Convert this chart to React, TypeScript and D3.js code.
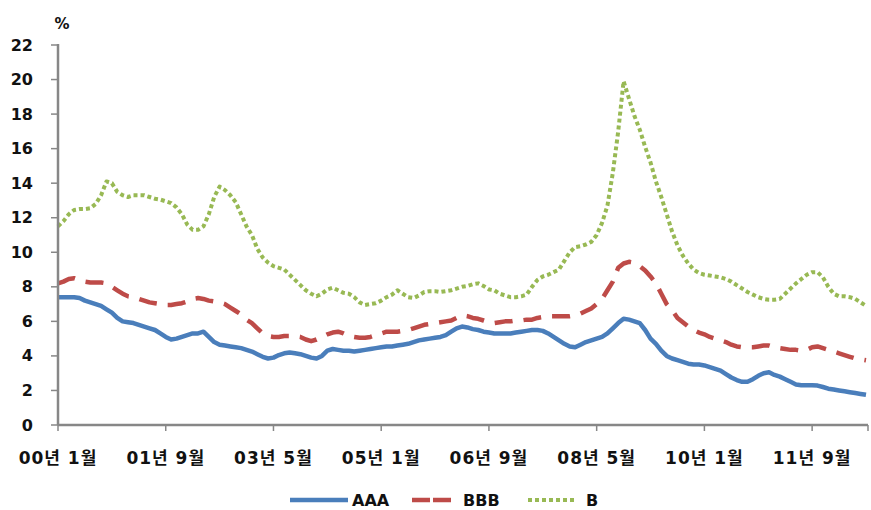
import { useEffect, useRef } from 'react';
import * as d3 from 'd3';

// 월별 회사채 수익률 (2000.1 ~ 2012.7)
const aaa = [
  7.4, 7.4, 7.4, 7.4, 7.35, 7.2, 7.1, 7.0, 6.9, 6.7,
  6.5, 6.2, 6.0, 5.95, 5.9, 5.8, 5.7, 5.6, 5.5, 5.3,
  5.1, 4.95, 5.0, 5.1, 5.2, 5.3, 5.3, 5.4, 5.1, 4.8,
  4.65, 4.6, 4.55, 4.5, 4.45, 4.35, 4.25, 4.1, 3.95, 3.85,
  3.9, 4.05, 4.15, 4.2, 4.15, 4.1, 4.0, 3.9, 3.85, 4.0,
  4.3, 4.4, 4.35, 4.3, 4.3, 4.25, 4.3, 4.35, 4.4, 4.45,
  4.5, 4.55, 4.55, 4.6, 4.65, 4.7, 4.8, 4.9, 4.95, 5.0,
  5.05, 5.1, 5.2, 5.4, 5.6, 5.7, 5.65, 5.55, 5.5, 5.4,
  5.35, 5.3, 5.3, 5.3, 5.3, 5.35, 5.4, 5.45, 5.5, 5.5,
  5.45, 5.3, 5.1, 4.9, 4.7, 4.55, 4.5, 4.65, 4.8, 4.9,
  5.0, 5.1, 5.3, 5.6, 5.9, 6.15, 6.1, 6.0, 5.9, 5.5,
  5.0, 4.7, 4.3, 4.0, 3.85, 3.75, 3.65, 3.55, 3.5, 3.5,
  3.45, 3.35, 3.25, 3.15, 2.95, 2.75, 2.6, 2.5, 2.5, 2.65,
  2.85, 3.0, 3.05, 2.9, 2.8, 2.65, 2.5, 2.35, 2.3, 2.3,
  2.3, 2.28, 2.2, 2.1, 2.05, 2.0, 1.95, 1.9, 1.85, 1.8,
  1.75,
];

const bbb = [
  8.2, 8.3, 8.45, 8.5, 8.4, 8.3, 8.25, 8.25, 8.25, 8.2,
  8.0, 7.8, 7.6, 7.45, 7.4, 7.3, 7.2, 7.1, 7.05, 7.0,
  6.95, 6.95, 7.0, 7.05, 7.15, 7.3, 7.35, 7.3, 7.2, 7.15,
  7.1, 7.0, 6.8, 6.6, 6.4, 6.1, 5.9, 5.6, 5.3, 5.15,
  5.1, 5.1, 5.15, 5.15, 5.15, 5.1, 4.95, 4.85, 4.95, 5.1,
  5.25, 5.35, 5.4, 5.3, 5.15, 5.1, 5.05, 5.05, 5.1, 5.2,
  5.3, 5.4, 5.4, 5.4, 5.45, 5.5, 5.6, 5.7, 5.8, 5.85,
  5.9, 5.95, 6.0, 6.05, 6.2, 6.35, 6.3, 6.2, 6.15, 6.05,
  5.95, 5.9, 5.95, 6.0, 6.0, 6.05, 6.05, 6.1, 6.1, 6.2,
  6.25, 6.3, 6.3, 6.3, 6.3, 6.3, 6.35, 6.45, 6.6, 6.75,
  7.0, 7.3, 7.8, 8.3, 9.1, 9.35, 9.45, 9.4, 9.2, 8.95,
  8.6, 8.2, 7.6, 7.0, 6.65, 6.2, 5.95, 5.7, 5.5, 5.35,
  5.25, 5.1, 5.0, 4.9, 4.8, 4.65, 4.55, 4.5, 4.5, 4.5,
  4.55, 4.6, 4.6, 4.5, 4.45, 4.4, 4.35, 4.35, 4.3, 4.35,
  4.5, 4.55, 4.45, 4.35, 4.25, 4.15, 4.05, 3.95, 3.85, 3.8,
  3.75,
];

const bGrade = [
  11.5, 11.8, 12.2, 12.45, 12.5, 12.5, 12.55, 12.8, 13.3, 14.1,
  14.0, 13.5, 13.3, 13.2, 13.3, 13.3, 13.3, 13.2, 13.1, 13.05,
  12.95, 12.85, 12.6, 12.2, 11.6, 11.3, 11.3, 11.5, 12.2, 13.2,
  13.8, 13.6, 13.3, 12.9, 12.2, 11.5, 11.0, 10.2, 9.7, 9.4,
  9.2, 9.1, 9.0, 8.7, 8.4, 8.1, 7.8, 7.6, 7.45, 7.6,
  7.85, 7.95, 7.8, 7.65, 7.6, 7.4, 7.1, 6.95, 7.0, 7.05,
  7.2, 7.4, 7.55, 7.8, 7.6, 7.4, 7.35, 7.5, 7.7, 7.75,
  7.75, 7.7, 7.75, 7.8, 7.9, 8.0, 8.05, 8.15, 8.2, 8.05,
  7.85, 7.8, 7.6, 7.5, 7.4, 7.4, 7.45, 7.55, 8.0, 8.4,
  8.6, 8.7, 8.85, 9.0, 9.5, 10.0, 10.3, 10.35, 10.45, 10.6,
  11.0, 11.7, 12.7, 14.6, 17.0, 19.9, 18.9, 17.9, 17.1, 16.1,
  15.2, 14.1, 13.2, 12.2, 11.2, 10.4, 9.8, 9.35, 9.0, 8.8,
  8.7, 8.65, 8.6, 8.55, 8.45, 8.3, 8.1, 7.9, 7.7, 7.55,
  7.4, 7.3, 7.25, 7.25, 7.3, 7.6, 7.9, 8.2, 8.45, 8.7,
  8.85, 8.85, 8.55, 8.0, 7.6, 7.45, 7.45, 7.4, 7.3, 7.1,
  6.9,
];

const tickLabels = ['00년 1월', '01년 9월', '03년 5월', '05년 1월', '06년 9월', '08년 5월', '10년 1월', '11년 9월'];
const tickStep = 20;
const yTicks = [0, 2, 4, 6, 8, 10, 12, 14, 16, 18, 20, 22];

const seriesNames = ['AAA', 'BBB', 'B'];
const seriesData = [aaa, bbb, bGrade];

const App = () => {
  const svgRef = useRef<SVGSVGElement>(null);

  useEffect(() => {
    if (!svgRef.current) return;
    const svg = d3.select(svgRef.current);
    svg.selectAll('*').remove();

    const left = 58;
    const right = 866;
    const top = 45;
    const bottom = 425;
    const axisColor = '#878787';
    const font = '"DejaVu Sans", "Noto Sans CJK KR", sans-serif';

    const x = d3.scaleLinear().domain([0, aaa.length - 1]).range([left, right]);
    const y = d3.scaleLinear().domain([0, 22]).range([bottom, top]);

    const styles = [
      { color: '#4a7ebb', width: 4.5, dash: null },
      { color: '#be4b48', width: 4.5, dash: '18,11' },
      { color: '#98b954', width: 4, dash: '4,3' },
    ];

    // 선
    const line = d3.line<number>()
      .x((_, i) => x(i))
      .y(d => y(d));

    // B, BBB, AAA 순으로 그림
    [2, 1, 0].forEach(k => {
      const p = svg.append('path')
        .attr('d', line(seriesData[k]) || '')
        .attr('fill', 'none')
        .attr('stroke', styles[k].color)
        .attr('stroke-width', styles[k].width)
        .attr('stroke-linejoin', 'round');
      if (styles[k].dash) p.attr('stroke-dasharray', styles[k].dash);
    });

    // y축
    svg.append('line')
      .attr('x1', left).attr('x2', left)
      .attr('y1', top - 1).attr('y2', bottom)
      .attr('stroke', axisColor).attr('stroke-width', 2.5);

    yTicks.forEach(t => {
      svg.append('line')
        .attr('x1', left - 7).attr('x2', left)
        .attr('y1', y(t)).attr('y2', y(t))
        .attr('stroke', axisColor).attr('stroke-width', 1.5);
      svg.append('text')
        .attr('x', 33)
        .attr('y', y(t))
        .attr('text-anchor', 'end')
        .attr('dominant-baseline', 'central')
        .attr('font-family', font)
        .attr('font-weight', 'bold')
        .attr('font-size', '16px')
        .attr('fill', '#111')
        .text(t.toString());
    });

    // x축
    svg.append('line')
      .attr('x1', left).attr('x2', right + 2)
      .attr('y1', bottom).attr('y2', bottom)
      .attr('stroke', axisColor).attr('stroke-width', 2.5);

    tickLabels.forEach((lab, j) => {
      const tx = x(j * tickStep);
      svg.append('line')
        .attr('x1', tx).attr('x2', tx)
        .attr('y1', bottom).attr('y2', bottom + 6)
        .attr('stroke', axisColor).attr('stroke-width', 1.5);
      svg.append('text')
        .attr('x', tx)
        .attr('y', 464)
        .attr('text-anchor', 'middle')
        .attr('font-family', font)
        .attr('font-weight', 'bold')
        .attr('font-size', '17px')
        .attr('letter-spacing', '1px')
        .attr('fill', '#111')
        .text(lab);
    });
    svg.append('line')
      .attr('x1', right + 2).attr('x2', right + 2)
      .attr('y1', bottom).attr('y2', bottom + 6)
      .attr('stroke', axisColor).attr('stroke-width', 1.5);

    // 단위
    svg.append('text')
      .attr('x', 62)
      .attr('y', 29)
      .attr('text-anchor', 'middle')
      .attr('font-family', font)
      .attr('font-weight', 'bold')
      .attr('font-size', '15px')
      .attr('fill', '#111')
      .text('%');

    // 범례
    const legendX = [290, 412, 528];
    const legendLen = [58, 39, 46];
    const legendDash = [null, '18,3', '4,3'];
    const legendY = 500;
    seriesNames.forEach((name, k) => {
      const lx = legendX[k];
      const p = svg.append('line')
        .attr('x1', lx).attr('x2', lx + legendLen[k])
        .attr('y1', legendY).attr('y2', legendY)
        .attr('stroke', styles[k].color)
        .attr('stroke-width', styles[k].width);
      if (legendDash[k]) p.attr('stroke-dasharray', legendDash[k] as string);
      svg.append('text')
        .attr('x', lx + legendLen[k] + (k === 0 ? 4 : 12))
        .attr('y', legendY)
        .attr('dominant-baseline', 'central')
        .attr('font-family', font)
        .attr('font-weight', 'bold')
        .attr('font-size', '16px')
        .attr('fill', '#111')
        .text(name);
    });
  }, []);

  return (
    <svg
      ref={svgRef}
      width="871"
      height="510"
      style={{ position: 'absolute', left: 0, top: 0, background: '#fff' }}
    />
  );
};

export default App;
